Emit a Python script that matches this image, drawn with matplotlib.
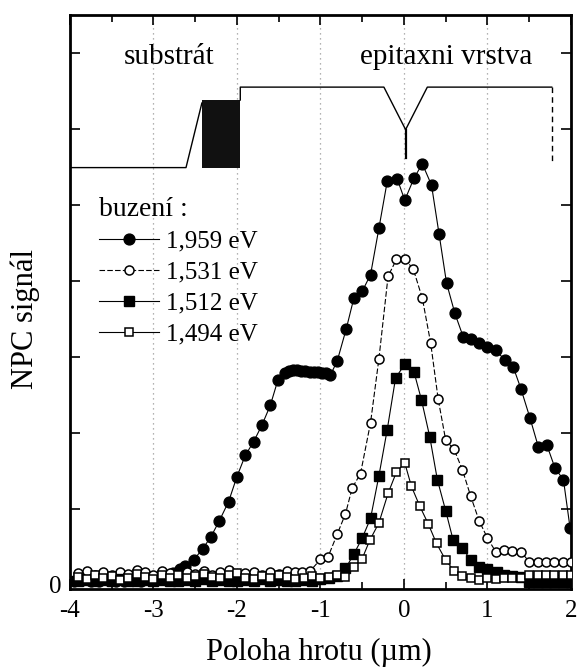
import matplotlib
matplotlib.use("Agg")
import matplotlib.pyplot as plt
from matplotlib.ticker import MultipleLocator, FixedLocator, FixedFormatter

# ---- data ----
# buzeni 1,959 eV (filled circles)
x_1959 = [-3.95, -3.85, -3.75, -3.65, -3.55, -3.45, -3.35, -3.25, -3.15, -3.05, -2.95, -2.85,
          -2.76, -2.68, -2.62, -2.52, -2.41, -2.31, -2.21, -2.10, -2.00, -1.90, -1.80, -1.70,
          -1.60, -1.51, -1.43, -1.38, -1.33, -1.28, -1.23, -1.18, -1.13, -1.08, -1.03, -0.98,
          -0.93, -0.88, -0.80, -0.69, -0.60, -0.50, -0.40, -0.30, -0.20, -0.08, 0.01, 0.12,
          0.22, 0.33, 0.42, 0.51, 0.61, 0.71, 0.80, 0.90, 1.00, 1.10, 1.21, 1.31, 1.40, 1.51,
          1.61, 1.71, 1.81, 1.91, 1.99]
y_1959 = [0.05, 0.06, 0.04, 0.05, 0.06, 0.05, 0.04, 0.06, 0.05, 0.07, 0.08, 0.10,
          0.15, 0.20, 0.24, 0.32, 0.47, 0.63, 0.84, 1.09, 1.42, 1.70, 1.88, 2.10,
          2.36, 2.69, 2.79, 2.81, 2.82, 2.82, 2.81, 2.81, 2.80, 2.80, 2.80, 2.79,
          2.78, 2.76, 2.94, 3.37, 3.77, 3.86, 4.08, 4.69, 5.31, 5.34, 5.06, 5.35,
          5.54, 5.26, 4.62, 3.97, 3.57, 3.26, 3.23, 3.18, 3.13, 3.09, 2.95, 2.86, 2.58, 2.19,
          1.81, 1.84, 1.53, 1.38, 0.74]

# buzeni 1,531 eV (open circles)
x_1531 = [-3.9, -3.8, -3.7, -3.6, -3.5, -3.4, -3.3, -3.2, -3.1, -3.0, -2.9, -2.8, -2.7, -2.6,
          -2.5, -2.4, -2.3, -2.2, -2.1, -2.0, -1.9, -1.8, -1.7, -1.6, -1.5, -1.4, -1.3,
          -1.22, -1.12, -1.00, -0.91, -0.80, -0.70, -0.62, -0.52, -0.40, -0.30, -0.19, -0.09,
          0.01, 0.11, 0.22, 0.32, 0.41, 0.50, 0.60, 0.70, 0.80, 0.90, 1.00, 1.10, 1.20, 1.30,
          1.40, 1.50, 1.60, 1.70, 1.80, 1.90, 2.00]
y_1531 = [0.15, 0.18, 0.13, 0.16, 0.12, 0.17, 0.14, 0.19, 0.16, 0.13, 0.18, 0.15, 0.12, 0.17,
          0.14, 0.18, 0.13, 0.16, 0.19, 0.12, 0.15, 0.17, 0.13, 0.16, 0.14, 0.18, 0.16,
          0.17, 0.18, 0.33, 0.36, 0.66, 0.93, 1.27, 1.46, 2.13, 2.97, 4.06, 4.28,
          4.28, 4.16, 3.77, 3.18, 2.44, 1.90, 1.78, 1.51, 1.16, 0.84, 0.61, 0.43, 0.45, 0.44,
          0.43, 0.30, 0.30, 0.30, 0.30, 0.30, 0.30]

# buzeni 1,512 eV (filled squares)
x_1512 = [-3.9, -3.8, -3.7, -3.6, -3.5, -3.4, -3.3, -3.2, -3.1, -3.0, -2.9, -2.8, -2.7, -2.6,
          -2.5, -2.4, -2.3, -2.2, -2.1, -2.0, -1.9, -1.8, -1.7, -1.6, -1.5, -1.4, -1.3, -1.2,
          -1.1, -1.0, -0.9,
          -0.80, -0.70, -0.60, -0.50, -0.40, -0.30, -0.20, -0.10, 0.01, 0.12, 0.21, 0.31,
          0.40, 0.50, 0.59, 0.70, 0.80, 0.90, 1.00, 1.11, 1.20, 1.30, 1.40, 1.50, 1.60, 1.70,
          1.80, 1.90, 2.00]
y_1512 = [0.05, 0.06, 0.04, 0.06, 0.05, 0.07, 0.05, 0.04, 0.06, 0.05, 0.06, 0.04, 0.05, 0.06,
          0.05, 0.07, 0.05, 0.06, 0.04, 0.05, 0.06, 0.05, 0.07, 0.05, 0.06, 0.04, 0.05, 0.06,
          0.05, 0.07, 0.08,
          0.11, 0.21, 0.40, 0.61, 0.87, 1.43, 2.04, 2.72, 2.90, 2.80, 2.43, 1.94,
          1.38, 0.97, 0.58, 0.48, 0.32, 0.23, 0.20, 0.17, 0.12, 0.11, 0.10, 0.03, 0.03, 0.03,
          0.03, 0.03, 0.03]

# buzeni 1,494 eV (open squares)
x_1494 = [-3.9, -3.8, -3.7, -3.6, -3.5, -3.4, -3.3, -3.2, -3.1, -3.0, -2.9, -2.8, -2.7, -2.6,
          -2.5, -2.4, -2.3, -2.2, -2.1, -2.0, -1.9, -1.8, -1.7, -1.6, -1.5, -1.4, -1.3, -1.2,
          -1.1, -1.0, -0.9, -0.8, -0.7,
          -0.60, -0.50, -0.41, -0.30, -0.19, -0.09, 0.01, 0.09, 0.19, 0.29, 0.39, 0.50, 0.60,
          0.70, 0.80, 0.90, 1.00, 1.10, 1.20, 1.30, 1.40, 1.50, 1.60, 1.70, 1.80, 1.90, 2.00]
y_1494 = [0.10, 0.07, 0.12, 0.08, 0.11, 0.06, 0.09, 0.14, 0.10, 0.07, 0.12, 0.09, 0.13, 0.08,
          0.11, 0.14, 0.10, 0.08, 0.12, 0.15, 0.09, 0.07, 0.11, 0.08, 0.12, 0.10, 0.07, 0.09,
          0.11, 0.08, 0.10, 0.13, 0.10,
          0.23, 0.34, 0.58, 0.81, 1.20, 1.48, 1.60, 1.29, 1.03, 0.80, 0.54, 0.32, 0.18,
          0.11, 0.08, 0.06, 0.08, 0.07, 0.08, 0.09, 0.08, 0.12, 0.12, 0.12, 0.12, 0.12, 0.12]

# sample profile drawn at the top
prof_left_x = [-4.0, -2.61, -2.42]
prof_left_y = [5.49, 5.49, 6.34]
block_x = [-2.42, -1.96]
block_lo, block_hi = 5.49, 6.38
prof_right_x = [-1.96, -1.96, -0.24, 0.02, 0.28, 1.77]
prof_right_y = [6.38, 6.55, 6.55, 5.99, 6.55, 6.55]
tip_x = [0.02, 0.02]
tip_y = [5.99, 5.62]
edge_x = [1.77, 1.77]
edge_y = [6.55, 5.55]

series_labels = ["1,959 eV", "1,531 eV", "1,512 eV", "1,494 eV"]

# ---- plotting ----
plt.rcParams["font.family"] = "Liberation Serif"
plt.rcParams["axes.unicode_minus"] = False

fig = plt.figure(figsize=(5.78, 6.69), dpi=100)
ax = fig.add_axes([0.121, 0.1196, 0.8668, 0.858])

# vertical dotted grid
for gx in [-3, -2, -1, 0, 1]:
    ax.axvline(gx, color="#999999", linestyle=(0, (1, 3)), linewidth=0.9, zorder=0)

ln = 0.8
h1, = ax.plot(x_1959, y_1959, color="black", linewidth=ln, marker="o", markersize=7.8,
              markerfacecolor="black", markeredgecolor="black", zorder=3)
h2, = ax.plot(x_1531, y_1531, color="black", linewidth=ln, linestyle=(0, (5, 2)), marker="o",
              markersize=6.5, markerfacecolor="white", markeredgecolor="black",
              markeredgewidth=1.1, zorder=4)
h3, = ax.plot(x_1512, y_1512, color="black", linewidth=ln, marker="s", markersize=6.5,
              markerfacecolor="black", markeredgecolor="black", zorder=5)
h4, = ax.plot(x_1494, y_1494, color="black", linewidth=ln, marker="s", markersize=6,
              markerfacecolor="white", markeredgecolor="black", markeredgewidth=1.1, zorder=6)

# profile
ax.plot(prof_left_x, prof_left_y, color="black", linewidth=1.0)
ax.fill_between(block_x, block_lo, block_hi, color="#111111", linewidth=0)
ax.plot(prof_right_x, prof_right_y, color="black", linewidth=1.0)
ax.plot(tip_x, tip_y, color="black", linewidth=1.6)
ax.plot(edge_x, edge_y, color="black", linewidth=1.0, linestyle=(0, (4, 3)))

ax.text(-2.81, 6.95, "substrát", fontsize=21, ha="center", va="center")
ax.text(0.50, 6.95, "epitaxni vrstva", fontsize=21, ha="center", va="center")

ax.set_xlim(-4, 2)
ax.set_ylim(-0.06, 7.5)

ax.xaxis.set_major_locator(MultipleLocator(1))
ax.xaxis.set_minor_locator(MultipleLocator(0.5))
ax.yaxis.set_major_locator(FixedLocator([0, 1, 2, 3, 4, 5, 6, 7]))
ax.yaxis.set_major_formatter(FixedFormatter(["0", "", "", "", "", "", "", ""]))
ax.tick_params(which="both", direction="in", top=True, right=True, width=1.2)
ax.tick_params(which="major", length=7, labelsize=18)
ax.tick_params(which="minor", length=5)
ax.tick_params(axis="x", pad=8)
ax.tick_params(axis="y", pad=6)
for sp in ax.spines.values():
    sp.set_linewidth(2.0)

fig.text(0.551, 0.024, "Poloha hrotu (\u00b5m)", fontsize=22, ha="center", va="center")
fig.text(0.043, 0.523, "NPC signál", fontsize=22, ha="center", va="center", rotation=90)

leg = ax.legend([h1, h2, h3, h4], series_labels, title="buzení :", loc="upper left",
                bbox_to_anchor=(0.172, 0.706), bbox_transform=fig.transFigure,
                frameon=False, fontsize=18, title_fontsize=20, handlelength=2.4,
                handletextpad=0.28, labelspacing=0.34, borderpad=0, borderaxespad=0,
                numpoints=1, alignment="left")

fig.savefig("out.png", dpi=100)
